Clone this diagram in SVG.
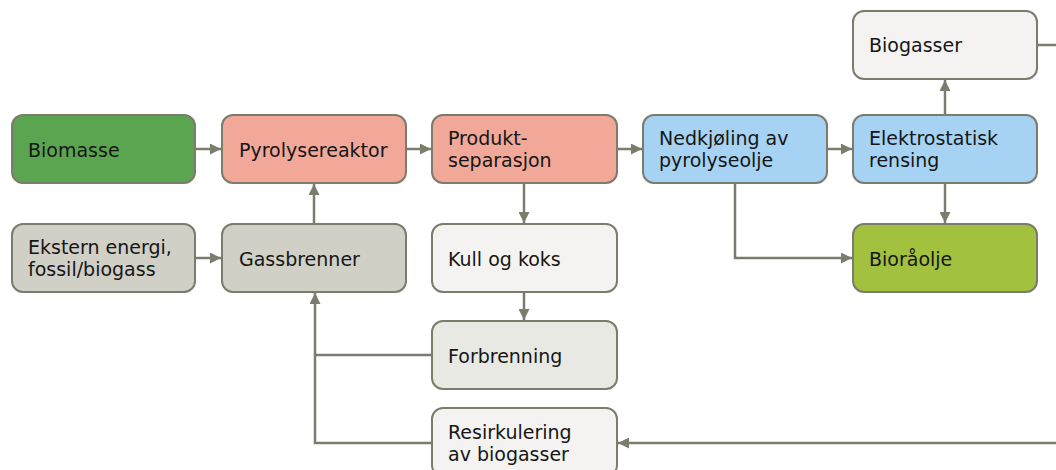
<svg xmlns="http://www.w3.org/2000/svg" width="1056" height="470" viewBox="0 0 1056 470">
  <style>
    .box { stroke: #7c7c6c; stroke-width: 2; }
    .lbl { font-family: "DejaVu Sans", Verdana, sans-serif; font-size: 19px; fill: #161616; }
    .wire { fill: none; stroke: #7c7c6c; stroke-width: 2.5; }
    .green { fill: #5ca550; }
    .salmon { fill: #f2a898; }
    .grey { fill: #d0d0c7; }
    .light { fill: #f4f3f1; }
    .pale { fill: #e9e9e4; }
    .blue { fill: #a6d3f3; }
    .olive { fill: #a2c13f; }
  </style>
  <defs>
    <marker id="arrow" viewBox="0 0 10 10" refX="10" refY="5" markerWidth="4.4" markerHeight="4.4" orient="auto" markerUnits="strokeWidth">
      <path d="M0,0 L10,5 L0,10 z" fill="#7c7c6c"/>
    </marker>
  </defs>
  <rect width="1056" height="470" fill="#ffffff"/>

  <g id="connectors">
    <path class="wire" d="M195,149 H221" marker-end="url(#arrow)"/>
    <path class="wire" d="M406,149 H431" marker-end="url(#arrow)"/>
    <path class="wire" d="M617,149 H642" marker-end="url(#arrow)"/>
    <path class="wire" d="M827,149 H852" marker-end="url(#arrow)"/>
    <path class="wire" d="M195,258 H221" marker-end="url(#arrow)"/>
    <path class="wire" d="M314,224 V184" marker-end="url(#arrow)"/>
    <path class="wire" d="M524,183 V223" marker-end="url(#arrow)"/>
    <path class="wire" d="M524,292 V320" marker-end="url(#arrow)"/>
    <path class="wire" d="M945,115 V80" marker-end="url(#arrow)"/>
    <path class="wire" d="M945,183 V223" marker-end="url(#arrow)"/>
    <path class="wire" d="M735,183 V258 H852" marker-end="url(#arrow)"/>
    <path class="wire" d="M432,355 H315"/>
    <path class="wire" d="M432,443 H315 V293" marker-end="url(#arrow)"/>
    <path class="wire" d="M1037,45 H1060 V443 H618" marker-end="url(#arrow)"/>
  </g>

  <g id="biomasse">
    <rect class="box green" x="12" y="115" width="183" height="68" rx="11"/>
    <text class="lbl" x="28" y="157">Biomasse</text>
  </g>
  <g id="pyrolysereaktor">
    <rect class="box salmon" x="222" y="115" width="184" height="68" rx="11"/>
    <text class="lbl" x="239" y="157">Pyrolysereaktor</text>
  </g>
  <g id="produktseparasjon">
    <rect class="box salmon" x="432" y="115" width="185" height="68" rx="11"/>
    <text class="lbl" x="448" y="145">Produkt-</text>
    <text class="lbl" x="448" y="167">separasjon</text>
  </g>
  <g id="nedkjoling">
    <rect class="box blue" x="643" y="115" width="184" height="68" rx="11"/>
    <text class="lbl" x="659" y="145">Nedkjøling av</text>
    <text class="lbl" x="659" y="167">pyrolyseolje</text>
  </g>
  <g id="elektrostatisk">
    <rect class="box blue" x="853" y="115" width="184" height="68" rx="11"/>
    <text class="lbl" x="869" y="145">Elektrostatisk</text>
    <text class="lbl" x="869" y="167">rensing</text>
  </g>
  <g id="biogasser">
    <rect class="box light" x="853" y="11" width="184" height="68" rx="11"/>
    <text class="lbl" x="869" y="52">Biogasser</text>
  </g>
  <g id="ekstern-energi">
    <rect class="box grey" x="12" y="224" width="183" height="68" rx="11"/>
    <text class="lbl" x="28" y="254">Ekstern energi,</text>
    <text class="lbl" x="28" y="276">fossil/biogass</text>
  </g>
  <g id="gassbrenner">
    <rect class="box grey" x="222" y="224" width="184" height="68" rx="11"/>
    <text class="lbl" x="239" y="266">Gassbrenner</text>
  </g>
  <g id="kull-og-koks">
    <rect class="box light" x="432" y="224" width="185" height="68" rx="11"/>
    <text class="lbl" x="448" y="266">Kull og koks</text>
  </g>
  <g id="bioraolje">
    <rect class="box olive" x="853" y="224" width="184" height="68" rx="11"/>
    <text class="lbl" x="869" y="266">Bioråolje</text>
  </g>
  <g id="forbrenning">
    <rect class="box pale" x="432" y="321" width="185" height="68" rx="11"/>
    <text class="lbl" x="448" y="363">Forbrenning</text>
  </g>
  <g id="resirkulering">
    <rect class="box light" x="432" y="408" width="185" height="68" rx="11"/>
    <text class="lbl" x="448" y="439">Resirkulering</text>
    <text class="lbl" x="448" y="461">av biogasser</text>
  </g>
</svg>
